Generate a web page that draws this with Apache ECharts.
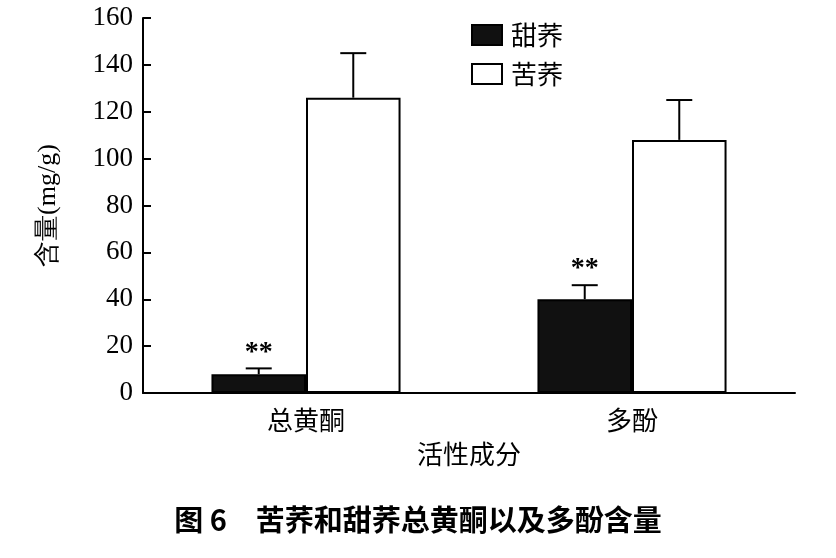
<![CDATA[<!DOCTYPE html><html><head><meta charset="utf-8"><script src="https://cdn.jsdelivr.net/npm/echarts@6/dist/echarts.min.js"></script>
<style>body{margin:0}#c{width:836px;height:558px}</style></head><body><div id="c"></div><script>
const categories=['总黄酮','多酚'];
const tianqiao=[8,40];
const tianqiaoErr=[2.5,6];
const kuqiao=[126,108];
const kuqiaoErr=[19,17];
const marks=['**','**'];
const yTicks=[0,20,40,60,80,100,120,140,160];
const chart=echarts.init(document.getElementById('c'));
function errSeries(vals,errs,side,star){
  return {type:'custom',z:5,data:vals.map((v,i)=>[i,v,errs[i]]),renderItem:(p,api)=>{
    const i=api.value(0),v=api.value(1),e=api.value(2);
    const bw=api.size([1,0])[0];
    const base=api.coord([i,v]);const x=base[0]+side*bw*0.145;
    const top=api.coord([i,v+e])[1];
    const ch=[{type:'line',shape:{x1:x,y1:base[1],x2:x,y2:top},style:{stroke:'#000',lineWidth:2}},
      {type:'line',shape:{x1:x-13,y1:top,x2:x+13,y2:top},style:{stroke:'#000',lineWidth:2}}];
    if(star)ch.push({type:'text',x:x,y:top-2,style:{text:star[i],fill:'#000',font:'bold 28px "Liberation Serif"',align:'center',verticalAlign:'bottom'}});
    return {type:'group',children:ch};
  }};
}
chart.setOption({
  animation:false,
  grid:{left:143,right:41,top:18,bottom:165},
  legend:{orient:'vertical',left:466,top:17,itemGap:13,itemWidth:30,itemHeight:20,icon:'rect',
    textStyle:{fontSize:26,color:'#000',fontFamily:'Noto Sans CJK SC',padding:[0,0,0,4]},data:['甜荞','苦荞']},
  title:{text:'图 6　苦荞和甜荞总黄酮以及多酚含量',left:'center',top:500,textStyle:{fontSize:29,fontWeight:'bold',color:'#000',fontFamily:'Noto Sans CJK SC'}},
  xAxis:{type:'category',data:categories,name:'活性成分',nameLocation:'middle',nameGap:48,
    nameTextStyle:{fontSize:26,color:'#000',fontFamily:'Noto Sans CJK SC'},
    axisLine:{lineStyle:{color:'#000',width:2}},axisTick:{inside:true,length:8,lineStyle:{color:'#000',width:2}},
    axisLabel:{fontSize:26,color:'#000',margin:14,fontFamily:'Noto Sans CJK SC'}},
  yAxis:{type:'value',min:0,max:160,interval:20,name:'含量(mg/g)',nameLocation:'middle',nameGap:82,
    nameTextStyle:{fontSize:26,color:'#000',fontFamily:'Liberation Serif'},
    axisLine:{show:true,lineStyle:{color:'#000',width:2}},axisTick:{show:true,inside:true,length:8,lineStyle:{color:'#000',width:2}},
    splitLine:{show:false},axisLabel:{fontSize:27,color:'#000',fontFamily:'Liberation Serif',margin:10,
      formatter:v=>yTicks.includes(v)?String(v):''}},
  series:[
    {name:'甜荞',type:'bar',data:tianqiao,barWidth:'29%',barGap:'0%',itemStyle:{color:'#111',borderColor:'#000',borderWidth:2}},
    {name:'苦荞',type:'bar',data:kuqiao,barWidth:'29%',itemStyle:{color:'#fff',borderColor:'#000',borderWidth:2}},
    errSeries(tianqiao,tianqiaoErr,-1,marks),
    errSeries(kuqiao,kuqiaoErr,1,null)
  ]
});
</script></body></html>]]>
